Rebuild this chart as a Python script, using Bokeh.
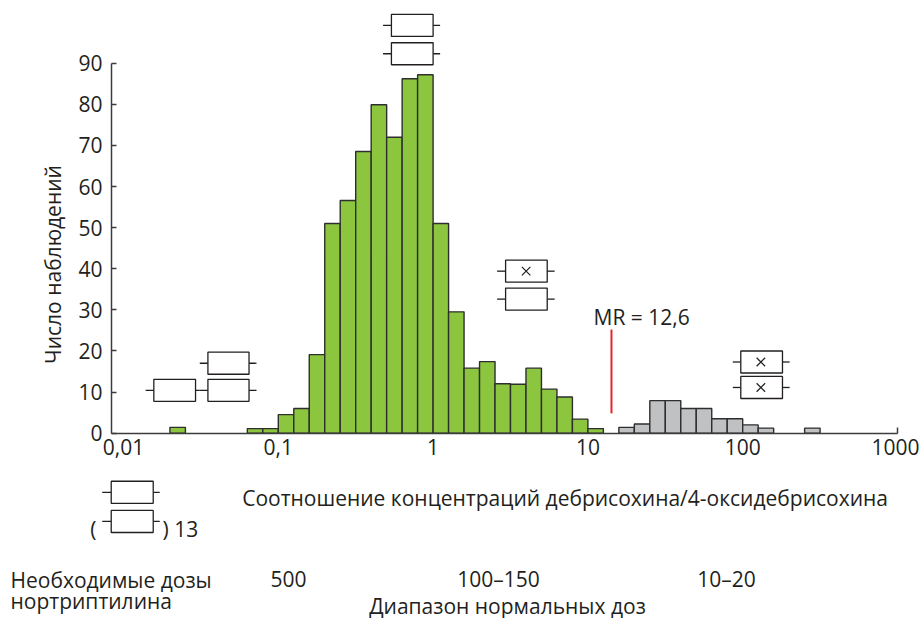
import math
from bokeh.plotting import figure
from bokeh.models import Range1d, FixedTicker, LogAxis
from bokeh.core.properties import value
from bokeh.embed import file_html
from bokeh.resources import INLINE

FONT = "Open Sans"
FS = "21px"
TXT = "#231f20"
EDGE = "#2e2e2e"
GREEN = "#8cc63f"
GREY = "#bfc1c3"
RED = "#e3262b"

# ---------------- data ----------------
# histogram bins: log10 of the ratio at the left edge of each bin (bin width 0.1 decade)
green_bins_log = [-1.7, -1.2, -1.1, -1.0, -0.9, -0.8, -0.7, -0.6, -0.5, -0.4, -0.3,
                  -0.2, -0.1, 0.0, 0.1, 0.2, 0.3, 0.4, 0.5, 0.6, 0.7, 0.8, 0.9, 1.0]
green_counts = [1.4, 1.1, 1.1, 4.5, 6.0, 19.1, 51.0, 56.6, 68.5, 79.9, 72.0,
                86.2, 87.2, 51.0, 29.5, 15.8, 17.4, 12.0, 11.9, 15.8, 10.7, 8.8, 3.4, 1.1]
grey_bins_log = [1.2, 1.3, 1.4, 1.5, 1.6, 1.7, 1.8, 1.9, 2.0, 2.1, 2.4]
grey_counts = [1.4, 2.2, 7.9, 7.9, 6.0, 6.0, 3.5, 3.5, 2.0, 1.2, 1.2]
bin_width_log = 0.1

# metabolic ratio marker
mr_x = 14.2
mr_y = [4.8, 25.2]
mr_label = "MR = 12,6"

# box-and-whisker symbols (ratio units / count units)
box_lo = [0.538, 0.538, 2.94, 2.94, 97.2, 97.2, 0.0157, 0.0351, 0.0351, 0.00833, 0.00833]
box_hi = [1.0, 1.0, 5.46, 5.46, 180.7, 180.7, 0.0292, 0.0647, 0.0647, 0.01556, 0.01556]
wh_lo = [0.475, 0.475, 2.59, 2.59, 86.3, 86.3, 0.0139, 0.0311, 0.0311, 0.00729, 0.00729]
wh_hi = [1.11, 1.11, 6.1, 6.1, 201.0, 201.0, 0.0311, 0.0723, 0.0723, 0.01714, 0.01714]
box_y = [99.2, 92.3, 39.4, 32.6, 17.3, 11.1, 10.4, 10.4, 17.0, -14.4, -21.5]
box_half_h = 2.68
cross_x = [3.99, 131.0, 131.0]
cross_y = [39.4, 17.3, 11.1]

x_ticks = [0.01, 0.1, 1, 10, 100, 1000]
x_tick_labels = ["0,01", "0,1", "1", "10", "100", "1000"]
y_ticks = [0, 10, 20, 30, 40, 50, 60, 70, 80, 90]

x_title = "Соотношение концентраций дебрисохина/4-оксидебрисохина"
y_title = "Число наблюдений"
dose_title = ["Необходимые дозы", "нортриптилина"]
dose_values = ["500", "100–150", "10–20"]
normal_title = "Диапазон нормальных доз"

# ---------------- layout helpers (reference pixel -> data) ----------------
DEC = 154.8      # pixels per decade
X0 = 123.0       # pixel of 0.01
Y0 = 432.6       # pixel of count 0
PPU = 4.11       # pixels per count unit
W, H = 919, 618
OFF = 0


def X(px):
    return 10 ** (-2 + (px - X0) / DEC)


def Y(py):
    return (Y0 - py) / PPU


p = figure(width=W, height=H, x_axis_type="log",
           x_range=Range1d(X(OFF), X(OFF + W)),
           y_range=Range1d(Y(OFF + H), Y(OFF)),
           output_backend="svg", toolbar_location=None,
           min_border=0, outline_line_color=None)
p.grid.visible = False
p.background_fill_color = "white"

# bars
p.quad(left=[10 ** b for b in green_bins_log],
       right=[10 ** (b + bin_width_log) for b in green_bins_log],
       bottom=0, top=green_counts,
       fill_color=GREEN, line_color=EDGE, line_width=1.4)
p.quad(left=[10 ** b for b in grey_bins_log],
       right=[10 ** (b + bin_width_log) for b in grey_bins_log],
       bottom=0, top=grey_counts,
       fill_color=GREY, line_color=EDGE, line_width=1.4)

# MR line
p.segment(x0=[mr_x], y0=[mr_y[0]], x1=[mr_x], y1=[mr_y[1]], line_color=RED, line_width=2)

# box symbols
p.segment(x0=wh_lo, y0=box_y, x1=box_lo, y1=box_y, line_color=TXT, line_width=1.3)
p.segment(x0=box_hi, y0=box_y, x1=wh_hi, y1=box_y, line_color=TXT, line_width=1.3)
p.quad(left=box_lo, right=box_hi,
       bottom=[y - box_half_h for y in box_y], top=[y + box_half_h for y in box_y],
       fill_color="white", line_color=TXT, line_width=1.3)
p.scatter(x=cross_x, y=cross_y, marker="x", size=12, line_color=TXT, line_width=1.2)

# axes
xa = p.xaxis[0]
xa.fixed_location = 0
xa.bounds = (X(111), 1000)
xa.ticker = FixedTicker(ticks=x_ticks, minor_ticks=[])
xa.major_label_overrides = dict(zip(x_ticks, x_tick_labels))
xa.major_tick_in = 0
xa.major_tick_out = 0
xa.minor_tick_in = 0
xa.minor_tick_out = 0
xa.axis_line_color = "#3c3c3c"
xa.axis_line_width = 1.5
xa.major_label_standoff = 6
xa.major_label_text_font = FONT
xa.major_label_text_font_size = FS
xa.major_label_text_color = TXT

end_axis = LogAxis(fixed_location=0, ticker=FixedTicker(ticks=[1000], minor_ticks=[]),
                   axis_line_color=None, major_tick_in=6, major_tick_out=0,
                   major_tick_line_color="#3c3c3c", major_tick_line_width=1.5,
                   minor_tick_in=0, minor_tick_out=0,
                   major_label_text_color=None)
p.add_layout(end_axis, "below")

ya = p.yaxis[0]
ya.fixed_location = X(111)
ya.bounds = (0, 90)
ya.ticker = FixedTicker(ticks=y_ticks, minor_ticks=[])
ya.major_tick_in = 5
ya.major_tick_out = 0
ya.minor_tick_in = 0
ya.minor_tick_out = 0
ya.axis_line_color = "#3c3c3c"
ya.axis_line_width = 1.5
ya.major_tick_line_color = "#3c3c3c"
ya.major_tick_line_width = 1.5
ya.major_label_standoff = 9
ya.major_label_text_font = FONT
ya.major_label_text_font_size = FS
ya.major_label_text_color = TXT

# texts
def txt(x, y, s, align="left", angle=0.0):
    p.text(x=[x], y=[y], text=[s], text_font=value(FONT), text_font_size=FS,
           text_color=TXT, text_align=align, text_baseline="alphabetic", angle=angle)


txt(X(593), Y(316.7), mr_label)
txt(X(241.7), Y(497.3), x_title)
txt(X(52), Y(264), y_title, align="center", angle=math.pi / 2)
txt(X(10), Y(579.5), dose_title[0])
txt(X(10), Y(600.5), dose_title[1])
txt(X(288), Y(578.5), dose_values[0], align="center")
txt(X(498), Y(578.5), dose_values[1], align="center")
txt(X(726), Y(578.5), dose_values[2], align="center")
txt(X(507), Y(605), normal_title, align="center")
txt(X(96), Y(528.5), "(", align="right")
txt(X(162), Y(528.5), ") 13")

open("out.html", "w").write(file_html(p, INLINE))
